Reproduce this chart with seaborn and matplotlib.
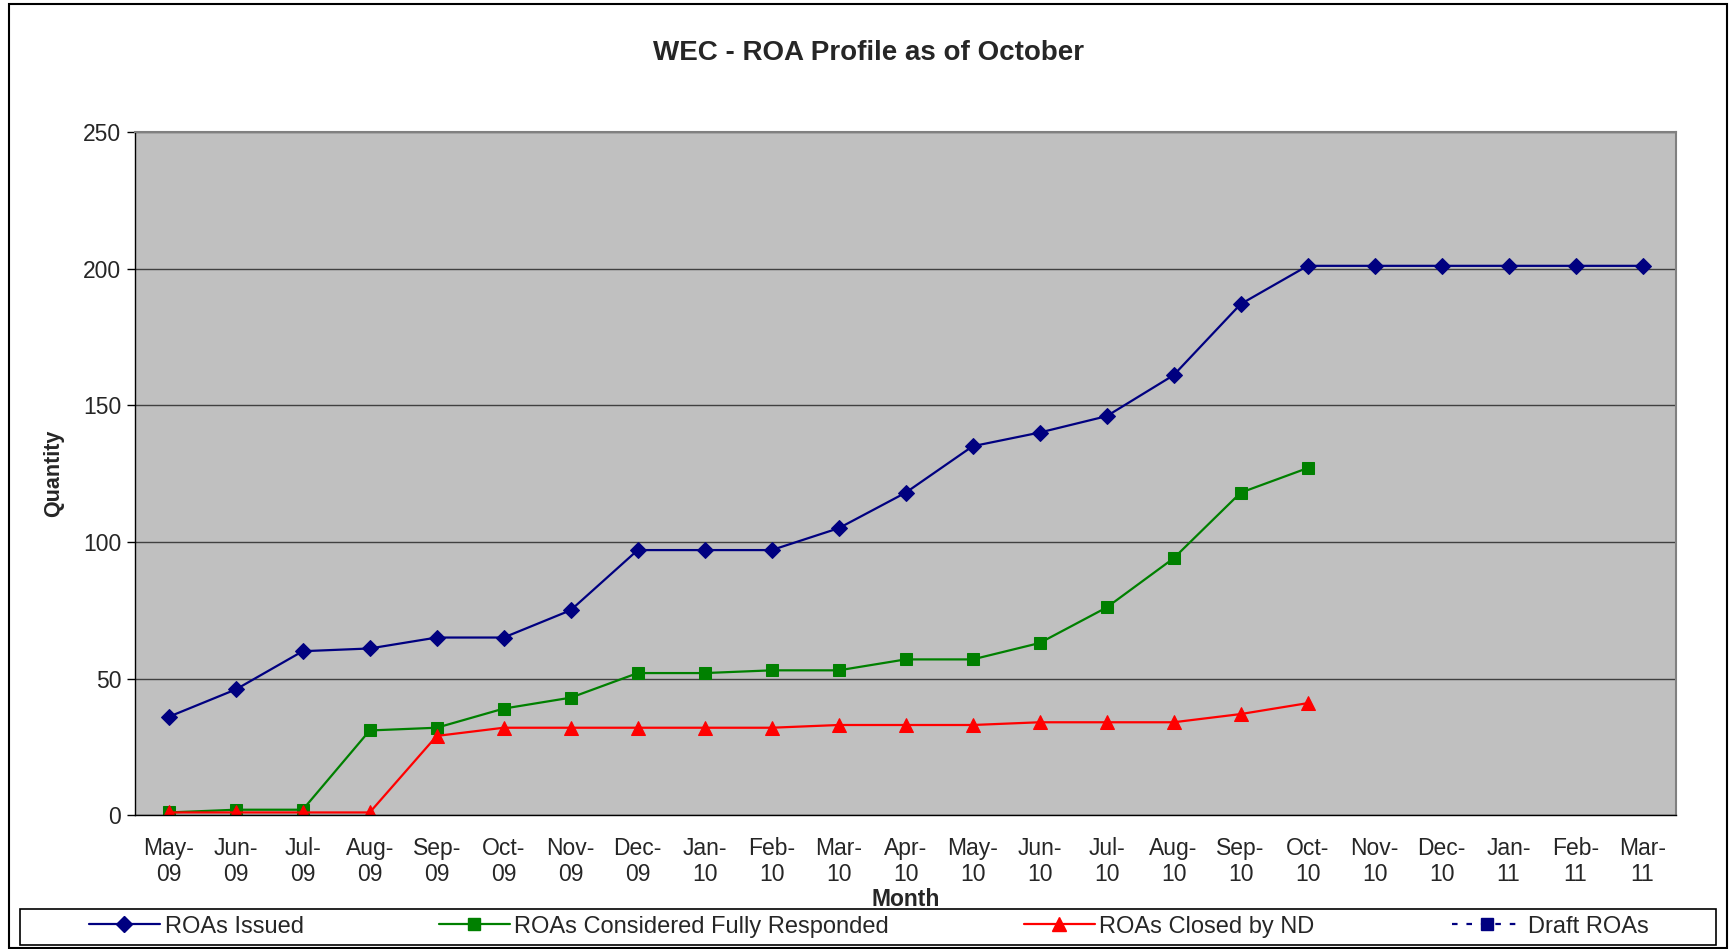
import numpy as np
import seaborn as sns
import matplotlib.pyplot as plt
from matplotlib.lines import Line2D
from matplotlib.patches import Rectangle

# Chart data
months = ["May-\n09", "Jun-\n09", "Jul-\n09", "Aug-\n09", "Sep-\n09", "Oct-\n09", "Nov-\n09",
          "Dec-\n09", "Jan-\n10", "Feb-\n10", "Mar-\n10", "Apr-\n10", "May-\n10", "Jun-\n10",
          "Jul-\n10", "Aug-\n10", "Sep-\n10", "Oct-\n10", "Nov-\n10", "Dec-\n10", "Jan-\n11",
          "Feb-\n11", "Mar-\n11"]
roas_issued = [36, 46, 60, 61, 65, 65, 75, 97, 97, 97, 105, 118, 135, 140, 146, 161, 187,
               201, 201, 201, 201, 201, 201]
roas_responded = [1, 2, 2, 31, 32, 39, 43, 52, 52, 53, 53, 57, 57, 63, 76, 94, 118, 127]
roas_closed = [1, 1, 1, 1, 29, 32, 32, 32, 32, 32, 33, 33, 33, 34, 34, 34, 37, 41]
draft_roas = []

sns.set_theme(style="white")
plt.rcParams['font.family'] = ['Liberation Sans', 'DejaVu Sans']

fig = plt.figure(figsize=(17.34, 9.49), dpi=100)
ax = fig.add_axes([0.078, 0.141, 0.8886, 0.72])
ax.set_facecolor("#C0C0C0")

series = [
    ("ROAs Issued", roas_issued, "#000080", "D", 8.5),
    ("ROAs Considered Fully Responded", roas_responded, "#008000", "s", 8.5),
    ("ROAs Closed by ND", roas_closed, "#FF0000", "^", 10),
]
handles = []
for name, vals, col, mk, ms in series:
    sns.lineplot(x=np.arange(len(vals)), y=vals, ax=ax, color=col, marker=mk,
                 markersize=ms, markeredgecolor=col, linewidth=1.6)
    handles.append(Line2D([], [], color=col, marker=mk, markersize=ms, lw=1.6, label=name))
# Draft ROAs has no values, legend entry only
handles.append(Line2D(draft_roas, draft_roas, color="#000080", marker="s", markersize=9,
                      lw=1.6, linestyle=(0, (2.5, 4)), label="Draft ROAs"))

ax.set_xlim(-0.5, len(months) - 0.5)
ax.set_ylim(0, 250)
ax.set_yticks(range(0, 251, 50))
ax.yaxis.grid(True, color="#404040", linewidth=1)
ax.set_axisbelow(True)
ax.set_xticks(np.arange(len(months)))
ax.set_xticklabels(months, fontsize=16.5, linespacing=1.15)
ax.set_xticks(np.arange(-0.5, len(months)), minor=True)
ax.tick_params(axis="x", which="major", length=0, pad=16)
ax.tick_params(axis="x", which="minor", length=6, width=1, color="black", direction="out")
ax.tick_params(axis="y", length=6, width=1, color="black", direction="out", labelsize=16.5, pad=4)
ax.tick_params(bottom=True, left=True)
for s in ["top", "right"]:
    ax.spines[s].set_color("#808080")
    ax.spines[s].set_linewidth(1.5)
for s in ["left", "bottom"]:
    ax.spines[s].set_color("black")
    ax.spines[s].set_linewidth(1)

ax.set_xlabel("Month", fontsize=16.5, fontweight="bold")
ax.xaxis.set_label_coords(0.5, -0.107)
ax.set_ylabel("Quantity", fontsize=15.5, fontweight="bold")
ax.yaxis.set_label_coords(-0.046, 0.5)
fig.suptitle("WEC - ROA Profile as of October", fontsize=20, fontweight="bold",
             x=0.501, y=0.944, va="center")

# legend entries laid out like the original, inside one box
legend_x = [0.0513, 0.253, 0.5905, 0.8374]
for h, lx in zip(handles, legend_x):
    fig.legend(handles=[h], loc="center left", bbox_to_anchor=(lx, 0.0235),
               fontsize=17, frameon=False, handlelength=3.0, handletextpad=0.2,
               borderpad=0, borderaxespad=0)
fig.patches.append(Rectangle((0.0115, 0.004), 0.978, 0.0385, transform=fig.transFigure,
                             fill=False, edgecolor="black", linewidth=1.2))

fig.patches.append(Rectangle((0.005, 0.001), 0.991, 0.995, transform=fig.transFigure,
                             fill=False, edgecolor="black", linewidth=1.5))

fig.savefig("out.png", dpi=100)
